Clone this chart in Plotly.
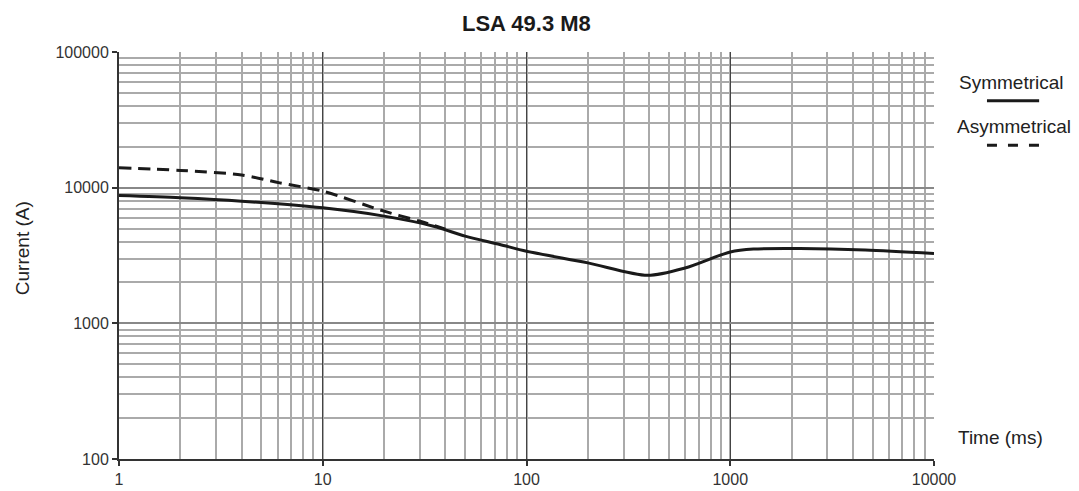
import plotly.graph_objects as go

title_text = "LSA 49.3 M8"
time_sym = [1, 2, 4, 10, 20, 35, 50, 74, 100, 200, 393, 600, 1000, 1300, 2200, 4600, 10000]
cur_sym = [8750, 8420, 7950, 7100, 6170, 5200, 4390, 3810, 3400, 2790, 2260, 2560, 3360, 3530, 3560, 3470, 3270]
time_asym = [1, 2, 4, 6.15, 10, 20, 30, 40]
cur_asym = [14000, 13400, 12400, 10850, 9420, 6710, 5660, 4950]
x_ticks = [1, 10, 100, 1000, 10000]
y_ticks = [100, 1000, 10000, 100000]

fig = go.Figure()
fig.add_trace(go.Scatter(x=time_asym, y=cur_asym, mode="lines",
                         line=dict(color="#1a1a1a", width=3, dash="12px,7px", shape="spline", smoothing=0.8),
                         showlegend=False, hoverinfo="skip"))
fig.add_trace(go.Scatter(x=time_sym, y=cur_sym, mode="lines",
                         line=dict(color="#1a1a1a", width=3, shape="spline", smoothing=0.8),
                         showlegend=False, hoverinfo="skip"))

tickfont = dict(family="Liberation Sans, Arial, sans-serif", size=16, color="#333")
fig.update_xaxes(type="log", range=[0, 4], tickvals=x_ticks, ticktext=[str(v) for v in x_ticks],
                 showgrid=True, gridcolor="#444", gridwidth=1.2,
                 showline=True, linecolor="#333", linewidth=2,
                 ticks="outside", ticklen=5, tickcolor="#333", tickwidth=1.5,
                 tickfont=tickfont, automargin=False,
                 minor=dict(dtick="D1", showgrid=True, gridcolor="#aaaaaa", gridwidth=1.8, ticks=""),
                 zeroline=False)
fig.update_yaxes(type="log", range=[2, 5], tickvals=y_ticks, ticktext=[str(v) for v in y_ticks],
                 showgrid=True, gridcolor="#888", gridwidth=1.6,
                 showline=True, linecolor="#333", linewidth=2,
                 ticks="outside", ticklen=5, tickcolor="#333", tickwidth=1.5,
                 tickfont=tickfont, automargin=False,
                 minor=dict(dtick="D1", showgrid=True, gridcolor="#aaaaaa", gridwidth=1.8, ticks=""),
                 zeroline=False)

fig.add_annotation(text="<b>" + title_text + "</b>", xref="paper", yref="paper",
                   x=0.5, y=1, xanchor="center", yanchor="middle", yshift=29, showarrow=False,
                   font=dict(family="Liberation Sans, Arial, sans-serif", size=22, color="#1a1a1a"))
fig.add_annotation(text="Current (A)", xref="paper", yref="paper", textangle=-90,
                   x=0, xanchor="center", yanchor="middle", xshift=-97, y=0.518, showarrow=False,
                   font=dict(family="Liberation Sans, Arial, sans-serif", size=19, color="#222"))
legend_font = dict(family="Liberation Sans, Arial, sans-serif", size=19, color="#222")
fig.add_annotation(text="Symmetrical", xref="paper", yref="paper", x=1, xshift=77, y=0.926,
                   xanchor="center", yanchor="middle", showarrow=False, font=legend_font)
fig.add_annotation(text="Asymmetrical", xref="paper", yref="paper", x=1, xshift=80, y=0.816,
                   xanchor="center", yanchor="middle", showarrow=False, font=legend_font)
fig.add_annotation(text="Time (ms)", xref="paper", yref="paper", x=1, xshift=66, y=0.054,
                   xanchor="center", yanchor="middle", showarrow=False, font=legend_font)
fig.add_shape(type="line", xref="paper", yref="paper", x0=1.065, x1=1.129, y0=0.88, y1=0.88,
              line=dict(color="#1a1a1a", width=3))
fig.add_shape(type="line", xref="paper", yref="paper", x0=1.065, x1=1.129, y0=0.771, y1=0.771,
              line=dict(color="#1a1a1a", width=3, dash="10px,11px"))

fig.update_layout(width=1079, height=491, autosize=False,
                  margin=dict(l=119, r=145, t=52, b=32),
                  paper_bgcolor="white", plot_bgcolor="white")
fig.write_html("out.html")
